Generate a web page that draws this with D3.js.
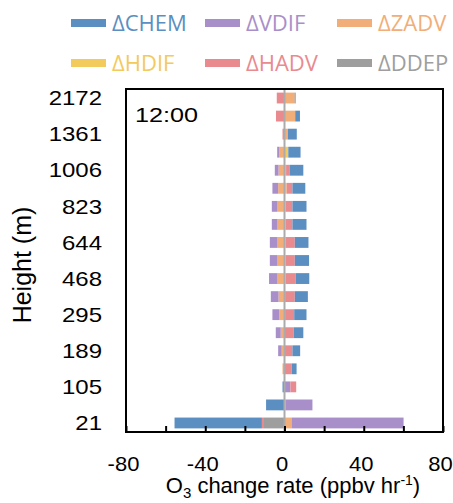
<!DOCTYPE html>
<html><head><meta charset="utf-8">
<script src="https://cdn.jsdelivr.net/npm/d3@7"></script>
<style>body{margin:0;background:#fff} svg{display:block}</style>
</head><body><svg id="c" width="453" height="503"></svg>
<script>
// Heights (m), bottom to top; only every other level is labelled
const heights = ["21","63","105","147","189","240","295","380","468","556","644","733","823","914","1006","1180","1361","1720","2172"];
const heightLabels = ["21","105","189","295","468","644","823","1006","1361","2172"];
// Process contributions (ppbv hr-1), bottom to top
const CHEM = [-44.1,-9.3,-1.0,2.5,3.9,4.9,6.2,6.6,6.8,7.2,6.9,7.1,7.1,6.5,6.8,6.2,4.5,2.4,0.4];
const VDIF = [56.6,13.4,3.0,0,-1.8,-2.5,-3.4,-3.9,-4.3,-3.9,-3.9,-2.9,-2.9,-2.9,-1.9,-1.0,0,0,0];
const ZADV = [3.5,0.7,0,-1.0,-1.4,-1.9,-2.7,-3.0,-3.5,-3.5,-3.5,-3.5,-3.5,-3.2,-3.0,-2.7,1.7,5.4,5.2];
const HDIF = [0,0,0,0,0,0,0.3,0.3,0.7,0.7,0.7,0.7,0.7,1.0,0.8,1.9,0,0,0];
const HADV = [-0.6,0,2.9,3.6,4.0,4.6,4.6,4.9,5.0,4.5,4.5,3.3,3.3,3.0,1.9,0,-1.0,-4.3,-3.9];
const DDEP = [-10.8,0,0,0,0,0,0,0,0,0,0,0,0,0,0,0,0,0,0];
const stackOrder = ["DDEP","HDIF","ZADV","VDIF","HADV","CHEM"];
const legendOrder = ["CHEM","VDIF","ZADV","HDIF","HADV","DDEP"];
const xTicks = [-80,-60,-40,-20,0,20,40,60,80];
const xTickLabels = [-80,-40,0,40,80];
const timeLabel = "12:00";
const colors = {CHEM:"#5B8FC1",VDIF:"#A98FC9",ZADV:"#F1AE78",HDIF:"#F3CA5C",HADV:"#E98A8F",DDEP:"#9E9E9E"};

const series = {CHEM,VDIF,ZADV,HDIF,HADV,DDEP};
const rows = heights.map((h,i)=>{const r={h}; for(const k of stackOrder) r[k]=series[k][i]; return r;});
const stacked = d3.stack().keys(stackOrder).offset(d3.stackOffsetDiverging)(rows);

const svg = d3.select("#c");
const FONT = "'Liberation Sans', Arial, sans-serif";
const L=126,R=443,T=89,B=432;
const x = d3.scaleLinear().domain([-80,80]).range([L,R]);
const y = d3.scaleBand().domain(heights).range([B,T]).paddingInner(0.4).paddingOuter(0.2);

// bars
svg.append("g").selectAll("g").data(stacked).join("g")
  .attr("fill",d=>colors[d.key])
  .selectAll("rect").data(d=>d).join("rect")
  .attr("x",d=>x(Math.min(d[0],d[1])))
  .attr("width",d=>Math.abs(x(d[1])-x(d[0])))
  .attr("y",d=>y(d.data.h))
  .attr("height",y.bandwidth());

// zero line
svg.append("line").attr("x1",x(0)).attr("x2",x(0)).attr("y1",T).attr("y2",B)
  .attr("stroke","#ABABAB").attr("stroke-width",2);

// x axis: inward ticks
const xa = svg.append("g").attr("transform",`translate(0,${B})`)
  .call(d3.axisBottom(x).tickValues(xTicks).tickSize(-6).tickFormat(""));
xa.select(".domain").remove();
xa.selectAll(".tick text").remove();
xa.selectAll(".tick line").attr("stroke","#000").attr("stroke-width",2);
// x axis: labels
const xl = svg.append("g").attr("transform",`translate(0,${B})`)
  .call(d3.axisBottom(x).tickValues(xTickLabels).tickSize(0).tickFormat(d=>String(d)));
xl.select(".domain").remove();
xl.selectAll(".tick line").remove();
xl.selectAll(".tick text").attr("y",39).attr("dy",0).attr("x",0)
  .attr("font-family",FONT).attr("font-size",20).attr("fill","#000")
  .attr("transform","translate(-3,0) scale(1.1,1)");

// y axis
const ya = svg.append("g").attr("transform",`translate(${L},0)`)
  .call(d3.axisLeft(y).tickValues(heightLabels).tickSize(0).tickPadding(0));
ya.select(".domain").remove();
ya.selectAll(".tick text").attr("x",0).attr("dy","0.36em")
  .attr("font-family",FONT).attr("font-size",20).attr("fill","#000")
  .attr("transform","translate(-24,0) scale(1.2,1)");

// frame
svg.append("rect").attr("x",L).attr("y",T).attr("width",R-L).attr("height",B-T)
  .attr("fill","none").attr("stroke","#000").attr("stroke-width",2);

// time label
svg.append("text").attr("transform",`translate(135,122) scale(1.2,1)`)
  .attr("font-family",FONT).attr("font-size",21).text(timeLabel);

// axis titles
const xt = svg.append("text").attr("x",293).attr("y",493).attr("text-anchor","middle")
  .attr("font-family",FONT).attr("font-size",22);
xt.append("tspan").text("O");
xt.append("tspan").attr("font-size",15).attr("dy",5).text("3");
xt.append("tspan").attr("dy",-5).text(" change rate (ppbv hr");
xt.append("tspan").attr("font-size",14).attr("dy",-8).text("-1");
xt.append("tspan").attr("dy",8).text(")");

svg.append("text").attr("transform","translate(31,265) rotate(-90)")
  .attr("text-anchor","middle").attr("font-family",FONT).attr("font-size",25)
  .text("Height (m)");

// legend
const lx=[71,205,337], ly=[23,63];
const lg = svg.append("g").selectAll("g").data(legendOrder).join("g")
  .attr("transform",(d,i)=>`translate(${lx[i%3]},${ly[Math.floor(i/3)]})`);
lg.append("rect").attr("x",0).attr("y",-4).attr("width",35).attr("height",8).attr("fill",d=>colors[d]);
lg.append("text").attr("x",41).attr("y",8).attr("font-family","'Open Sans', sans-serif")
  .attr("font-size",22).attr("fill",d=>colors[d]).text(d=>"\u0394"+d);
</script></body></html>
